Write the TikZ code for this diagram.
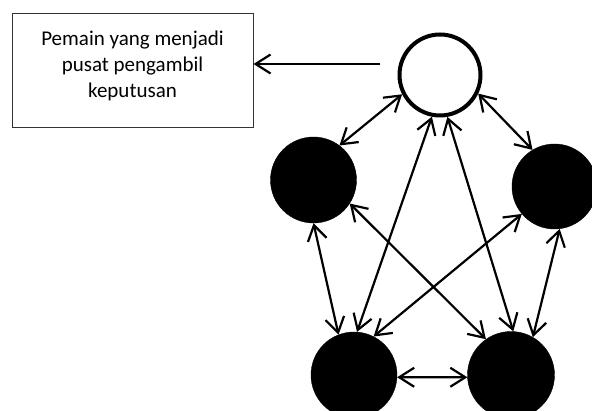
\documentclass[tikz,border=0pt]{standalone}
\usepackage{fontspec}
\setmainfont{Carlito}
\usetikzlibrary{arrows.meta}

\begin{document}
\begin{tikzpicture}[x=1pt, y=1pt,
  player/.style={circle, draw=black, fill=black, inner sep=0pt, minimum size=86pt},
  link/.style={line width=2.2pt, {Straight Barb[length=15pt,width=19pt]}-{Straight Barb[length=15pt,width=19pt]}}]

  % Page frame
  \useasboundingbox (0, 0) rectangle (592, 410);

  % Text box
  \node[draw=black!80, line width=1pt, minimum width=241pt, minimum height=114pt,
        align=center, text depth=14pt, font=\fontsize{21}{26}\selectfont]
    (box) at (132.5, 339) {Pemain yang menjadi\\pusat pengambil\\keputusan};

  % Players
  \node[circle, draw=black, fill=white, line width=4pt, inner sep=0pt, minimum size=81pt]
    (T) at (440, 335) {};
  \node[player] (L) at (313.5, 230) {};
  \node[player, minimum size=85pt] (R) at (554.5, 223.5) {};
  \node[player] (BL) at (354, 35) {};
  \node[player, minimum size=87pt] (BR) at (511, 35) {};

  % Pointer to the box
  \coordinate (src) at (380, 346);
  \draw[line width=2.2pt, -{Straight Barb[length=15pt,width=19pt]}] (src) -- (src -| box.east);

  % Links between players
  \foreach \a/\b in {T.207/L.53, T.334/R.121, T.259/BL.86, T.280/BR.87,
                     L.327/BR.125, R.220/BL.63, L.270/BL.111, R.277/BR.60,
                     BL.357/BR.183}
    \draw[link] (\a) -- (\b);

\end{tikzpicture}
\end{document}
